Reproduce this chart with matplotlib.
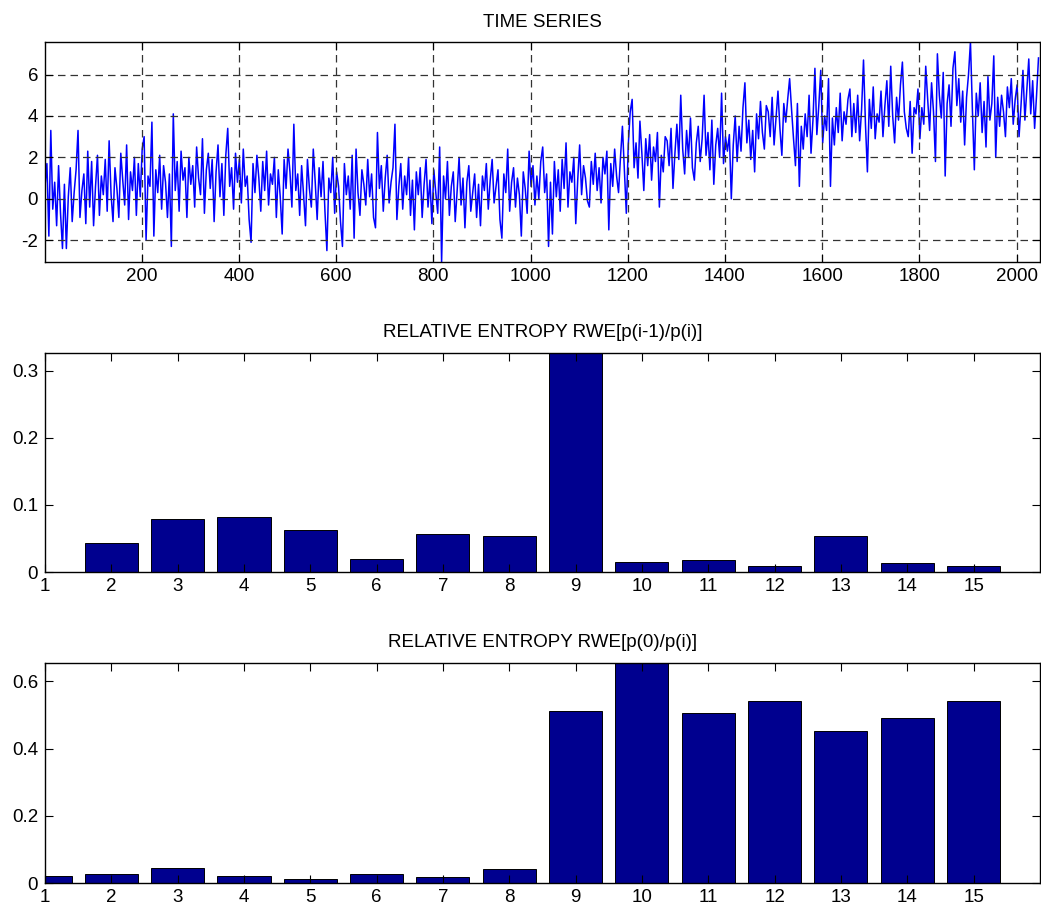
import numpy as np
import matplotlib
matplotlib.use("Agg")
import matplotlib.pyplot as plt

# serie temporal (un valor cada 4 muestras, 2048 muestras en total)
serie = np.array([
    0.6, 1.7, -1.8, 3.3, -0.5, 0.8, -1.3, 1.6, -0.7, -2.4, 0.7, -2.4, 0.1, 1.5, -1.1, 0.3,
    1.4, 3.3, -0.9, 0.4, 1.2, -1.2, 2.3, -0.4, 1.8, -1.3, 0.6, 2.1, -0.8, 1.1, 0.2, 1.9,
    -0.6, 2.8, 0.2, -1.1, 1.5, 0.5, -0.9, 2.2, 0.9, -0.3, 2.6, -1.0, 1.3, 0.4, 2.0, -0.8,
    1.7, 0.1, 2.4, 3.0, -2.0, 1.1, 0.6, 3.7, -1.8, 1.4, 0.3, 2.1, -0.5, 1.6, 0.8, -0.9,
    1.2, -2.3, 4.1, 0.4, 1.8, -0.6, 2.3, 0.9, 1.5, -0.9, 2.0, 0.7, 1.6, -0.4, 2.5, 1.0,
    0.2, 2.9, -0.7, 1.4, 2.2, 0.5, 1.9, -1.1, 1.3, 2.6, 0.1, 1.7, -0.8, 2.1, 3.4, 0.6,
    1.5, -0.5, 2.2, 0.8, 1.9, -0.2, 2.4, 0.6, 1.1, -1.0, -2.1, 1.7, 0.3, 2.1, 1.0, -0.6,
    1.8, 0.4, 2.3, -0.3, 1.2, 0.7, 2.0, -0.9, 1.4, 0.1, -1.7, 1.9, 0.5, 2.4, 1.3, -0.4,
    3.6, 0.4, 1.2, -0.8, 1.6, 0.2, -1.3, 1.9, 0.5, -0.4, 2.4, 0.8, -1.0, 1.5, 0.1, 1.8,
    -0.6, -2.5, 1.0, 0.3, 2.0, -0.7, 1.3, 0.6, -1.1, -2.3, 1.7, 0.2, 1.1, -0.5, 2.1, -1.9,
    2.4, 0.3, -0.8, 1.4, 0.7, -0.3, 1.9, 0.1, 1.2, -0.9, -1.4, 3.2, 0.5, 1.6, -0.6, 1.0,
    2.1, -0.2, 0.8, 1.5, 3.6, -1.0, 0.6, 1.7, -0.5, 1.1, 0.2, 2.0, -0.8, 0.9, -1.5, 1.3,
    0.2, 1.5, -0.9, 0.7, 1.9, -0.4, 0.9, -1.2, 1.4, 0.3, -0.7, 2.5, -3.05, 1.1, 0.0, 1.8,
    -0.8, 0.6, 1.3, -1.1, 0.4, 2.0, -0.3, 1.0, -1.4, 0.8, 1.6, -0.6, 0.3, 1.2, -0.9, 0.7,
    -1.3, 1.1, 0.4, 1.7, -0.5, 0.9, 1.9, -0.2, 0.6, 1.4, -1.0, -1.9, 1.2, 0.3, 2.4, -0.6,
    0.8, 1.5, -0.4, 1.0, 0.2, -1.8, 1.3, 0.5, -0.7, 2.3, 0.6, 1.6, -0.3, 1.1, 0.0, 1.8,
    2.5, 0.3, 1.2, -2.3, 0.8, -1.7, 1.8, 0.1, 1.4, -0.6, 1.9, 0.5, 2.7, -0.4, 1.3, 0.8,
    2.0, -1.2, 0.9, 2.6, 0.2, 1.6, 1.0, -0.1, -0.4, 1.8, 0.7, 2.2, 0.4, 1.5, -0.2, 2.0,
    1.2, 2.3, -1.5, 1.7, 0.6, 2.4, 1.1, 0.3, 2.0, 3.5, 1.4, -0.7, 2.6, 4.2, 4.8, 1.5,
    2.7, 1.0, 3.75, 2.2, 0.4, 2.9, 1.6, 3.1, 0.9, 2.5, 1.8, 3.2, -0.4, 2.1, 1.3, 3.0,
    2.8, 1.6, 3.4, 0.5, 2.2, 3.6, 1.9, 5.0, 2.4, 1.2, 3.3, 2.0, 3.9, 1.5, 0.9, 2.7,
    3.5, 1.8, 2.9, 5.0, 2.1, 3.2, 1.4, 3.8, 0.7, 2.6, 3.4, 2.0, 5.1, 1.7, 3.0, 2.3,
    3.1, 0.0, 2.6, 4.0, 1.8, 3.5, 2.3, 4.4, 5.6, 2.7, 3.8, 1.9, 3.3, 1.3, 4.1, 2.9,
    4.7, 3.2, 2.4, 4.5, 4.2, 3.0, 4.9, 2.6, 3.9, 5.2, 3.4, 2.1, 4.6, 3.7, 4.8, 5.8,
    4.3, 2.9, 1.6, 4.6, 0.6, 3.5, 2.4, 4.1, 3.0, 5.0, 2.2, 3.8, 6.3, 3.1, 4.5, 6.2,
    2.7, 4.0, 3.3, 5.8, 0.6, 3.9, 2.6, 4.4, 3.2, 5.1, 2.8, 4.2, 3.6, 4.8, 5.3, 3.0,
    4.6, 3.2, 5.0, 2.8, 4.3, 6.7, 3.6, 1.3, 4.8, 3.4, 5.4, 2.9, 4.1, 3.7, 5.2, 3.0,
    4.5, 5.7, 3.5, 6.4, 4.0, 2.7, 4.9, 3.8, 5.5, 6.6, 4.2, 3.4, 3.0, 4.7, 2.2, 4.4,
    4.1, 5.3, 2.9, 4.4, 3.6, 6.4, 4.8, 3.3, 5.6, 4.2, 1.8, 7.0, 5.0, 3.9, 6.1, 1.1,
    4.6, 5.5, 3.5, 6.3, 7.1, 4.5, 5.8, 3.7, 5.2, 2.6, 4.9, 6.0, 7.57, 4.3, 1.4, 5.1,
    4.0, 5.6, 3.2, 4.7, 2.5, 5.9, 3.8, 4.6, 6.9, 2.0, 4.9, 3.5, 5.0, 4.2, 3.0, 5.4,
    4.4, 5.8, 3.6, 4.8, 5.5, 3.0, 4.5, 6.2, 3.8, 5.3, 6.75, 4.1, 5.7, 3.4, 5.0, 6.8,
])
muestras = np.arange(1, 2049, 4)

# niveles de entropia relativa
niveles = np.arange(1, 16)
rwe_consecutiva = [0.0, 0.043, 0.079, 0.082, 0.063, 0.019, 0.056, 0.053,
                   0.327, 0.015, 0.018, 0.009, 0.053, 0.013, 0.009]
rwe_inicial = [0.023, 0.028, 0.045, 0.023, 0.014, 0.028, 0.019, 0.043,
               0.51, 0.655, 0.505, 0.542, 0.453, 0.492, 0.542]

plt.rcParams['font.family'] = ['Liberation Sans', 'DejaVu Sans']
plt.rcParams['font.size'] = 13.5
plt.rcParams['axes.unicode_minus'] = False

fig = plt.figure(figsize=(10.41, 9.09), dpi=100)
ax1 = fig.add_axes([0.0432, 0.7118, 0.9558, 0.2420])
ax2 = fig.add_axes([0.0432, 0.3707, 0.9558, 0.2413])
ax3 = fig.add_axes([0.0432, 0.0283, 0.9558, 0.2427])

azul_barra = '#00008F'

# 1. serie temporal
ax1.plot(muestras, serie, color='#0000FF', linewidth=1.1)
ax1.set_xlim(1, 2048)
ax1.set_ylim(serie.min(), serie.max())
ax1.set_xticks(range(200, 2001, 200))
ax1.set_yticks([-2, 0, 2, 4, 6])
ax1.grid(True, color='0.2', linestyle=(0, (6, 4)), linewidth=0.9)
ax1.set_title('TIME SERIES', fontsize=13.5, pad=11)

# 2. entropia relativa entre niveles consecutivos
ax2.bar(niveles, rwe_consecutiva, width=0.8, color=azul_barra,
        edgecolor='black', linewidth=0.7)
ax2.set_xlim(1, 16)
ax2.set_ylim(0, max(rwe_consecutiva))
ax2.set_yticks([0, 0.1, 0.2, 0.3])
ax2.set_yticklabels(['0', '0.1', '0.2', '0.3'])
ax2.set_title('RELATIVE ENTROPY RWE[p(i-1)/p(i)]', fontsize=13.5, pad=11)

# 3. entropia relativa respecto al nivel inicial
ax3.bar(niveles, rwe_inicial, width=0.8, color=azul_barra,
        edgecolor='black', linewidth=0.7)
ax3.set_xlim(1, 16)
ax3.set_ylim(0, max(rwe_inicial))
ax3.set_yticks([0, 0.2, 0.4, 0.6])
ax3.set_yticklabels(['0', '0.2', '0.4', '0.6'])
ax3.set_title('RELATIVE ENTROPY RWE[p(0)/p(i)]', fontsize=13.5, pad=11)

for ax in (ax2, ax3):
    ax.set_xticks(niveles)

for ax in (ax1, ax2, ax3):
    ax.tick_params(direction='in', top=True, right=True, length=6, width=0.8,
                   labelsize=13.5)
    ax.tick_params(axis='x', pad=4)
    ax.tick_params(axis='y', pad=5)
    for s in ax.spines.values():
        s.set_linewidth(1.0)
    ax.set_axisbelow(False)

fig.savefig('out.png', dpi=100)
